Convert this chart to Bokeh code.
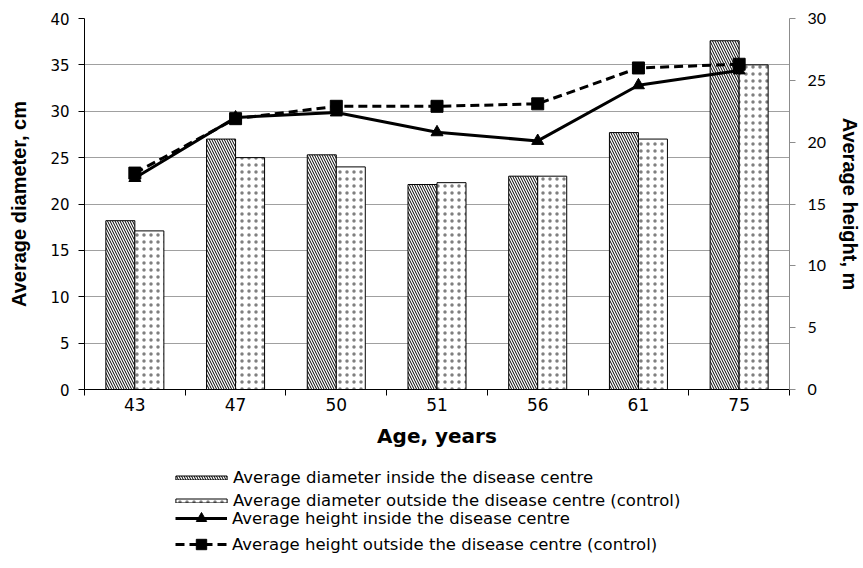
from bokeh.plotting import figure
from bokeh.layouts import column
from bokeh.models import (Range1d, LinearAxis, FixedTicker, Legend, LegendItem,
                          ColumnDataSource)
from bokeh.transform import dodge
from bokeh.embed import file_html
from bokeh.resources import INLINE

ages = ["43", "47", "50", "51", "56", "61", "75"]
diam_inside = [18.2, 27.0, 25.3, 22.1, 23.0, 27.7, 37.6]
diam_outside = [17.1, 25.0, 24.0, 22.3, 23.0, 27.0, 35.0]
height_inside = [17.1, 22.0, 22.4, 20.8, 20.1, 24.6, 25.8]
height_outside = [17.5, 21.9, 22.9, 22.9, 23.1, 26.0, 26.3]
left_ticks = [0, 5, 10, 15, 20, 25, 30, 35, 40]
right_ticks = [0, 5, 10, 15, 20, 25, 30]
labels = [
    "Average diameter inside the disease centre",
    "Average diameter outside the disease centre (control)",
    "Average height inside the disease centre",
    "Average height outside the disease centre (control)",
]

pos = list(range(len(ages)))
src = ColumnDataSource(dict(x=pos, di=diam_inside, do=diam_outside,
                            hi=height_inside, ho=height_outside))

FONT = "Liberation Sans"
HFONT = "DejaVu Sans"

diag_style = dict(fill_color="white", line_color="black", line_width=1,
                  hatch_pattern="\\", hatch_scale=5, hatch_weight=1, hatch_color="black")
dot_style = dict(fill_color="white", line_color="black", line_width=1,
                 hatch_pattern=".", hatch_scale=7, hatch_weight=1,
                 hatch_color="black", hatch_alpha=0.5)

p = figure(frame_width=705, frame_height=371, x_range=Range1d(-0.5, len(ages) - 0.5),
           y_range=Range1d(0, 40), output_backend="svg", toolbar_location=None,
           min_border_left=84, min_border_right=74, min_border_top=18,
           min_border_bottom=69)
p.extra_y_ranges = {"h": Range1d(0, 30)}
p.outline_line_color = None
p.background_fill_color = "white"
p.xgrid.visible = False
p.ygrid.grid_line_color = "#a0a0a0"
p.ygrid.grid_line_width = 1

# x axis
xa = p.xaxis[0]
xa.ticker = FixedTicker(ticks=pos, minor_ticks=[i - 0.5 for i in range(len(ages) + 1)])
xa.major_label_overrides = {i: a for i, a in zip(pos, ages)}
xa.major_tick_line_color = None
xa.major_tick_out = 6
xa.major_tick_in = 0
xa.minor_tick_line_color = "black"
xa.minor_tick_out = 6
xa.minor_tick_in = 0
xa.axis_line_color = "black"
xa.major_label_text_font = HFONT
xa.major_label_text_font_size = "17px"
xa.major_label_text_color = "black"
xa.major_label_standoff = 2
xa.axis_label = "Age, years"
xa.axis_label_text_font = HFONT
xa.axis_label_text_font_style = "bold"
xa.axis_label_text_font_size = "20px"
xa.axis_label_text_color = "black"
xa.axis_label_standoff = 10

# left axis
ya = p.yaxis[0]
ya.ticker = FixedTicker(ticks=left_ticks)
ya.minor_tick_line_color = None
ya.major_tick_out = 6
ya.major_tick_in = 0
ya.axis_line_color = "black"
ya.major_label_text_font = HFONT
ya.major_label_text_font_size = "15px"
ya.major_label_text_color = "black"
ya.major_label_standoff = 9
ya.axis_label = "Average diameter, cm"
ya.axis_label_text_font = FONT
ya.axis_label_text_font_style = "bold"
ya.axis_label_text_font_size = "20px"
ya.axis_label_text_color = "black"
ya.axis_label_standoff = 17

# right axis
ra = LinearAxis(y_range_name="h", ticker=FixedTicker(ticks=right_ticks))
ra.minor_tick_line_color = None
ra.major_tick_out = 6
ra.major_tick_in = 0
ra.axis_line_color = "#8c8c8c"
ra.major_tick_line_color = "#8c8c8c"
ra.major_label_text_font = "Lato"
ra.major_label_text_font_size = "16px"
ra.major_label_text_color = "black"
ra.major_label_standoff = 12
ra.axis_label = "Average height, m"
ra.axis_label_text_font = FONT
ra.axis_label_text_font_style = "bold"
ra.axis_label_text_font_size = "20px"
ra.axis_label_text_color = "black"
ra.axis_label_standoff = 10
p.add_layout(ra, "right")

bw = 0.288
p.vbar(x=dodge("x", -bw / 2, range=p.x_range), top="di", width=bw, source=src, **diag_style)
p.vbar(x=dodge("x", bw / 2, range=p.x_range), top="do", width=bw, source=src, **dot_style)

line_in = dict(line_width=3, line_color="black")
line_out = dict(line_width=3, line_color="black", line_dash="9 5")
mk_in = dict(marker="triangle", fill_color="black", line_color="black")
mk_out = dict(marker="square", fill_color="black", line_color="black")

p.line("x", "hi", source=src, y_range_name="h", **line_in)
p.scatter("x", "hi", source=src, y_range_name="h", size=12, **mk_in)
p.line("x", "ho", source=src, y_range_name="h", **line_out)
p.scatter("x", "ho", source=src, y_range_name="h", size=12, **mk_out)

# legend strip below the chart: same series, drawn out of view, so only the legend shows
q = figure(width=863, height=110, x_range=Range1d(-0.5, len(ages) - 0.5),
           y_range=Range1d(1000, 1001),
           output_backend="svg", toolbar_location=None, x_axis_type=None,
           y_axis_type=None, min_border=0, outline_line_color=None)
q.grid.visible = False
g1 = q.vbar(x="x", top="di", width=bw, source=src, **diag_style)
g2 = q.vbar(x="x", top="do", width=bw, source=src, **dot_style)
g3 = q.line("x", "hi", source=src, **line_in)
g4 = q.scatter("x", "hi", source=src, size=12, **mk_in)
g5 = q.line("x", "ho", source=src, **line_out)
g6 = q.scatter("x", "ho", source=src, size=12, **mk_out)

common = dict(orientation="vertical", padding=0, margin=0, border_line_color=None,
              background_fill_alpha=0, label_text_font=HFONT,
              label_text_font_size="16.5px", label_text_color="black")
leg1 = Legend(items=[LegendItem(label=labels[0], renderers=[g1]),
                     LegendItem(label=labels[1], renderers=[g2])],
              location=(85, 57), glyph_width=64, glyph_height=5, label_standoff=0,
              spacing=1, label_height=22, **common)
leg2 = Legend(items=[LegendItem(label=labels[2], renderers=[g3, g4]),
                     LegendItem(label=labels[3], renderers=[g5, g6])],
              location=(91, 11), glyph_width=52, glyph_height=26, label_standoff=5,
              spacing=-3, label_height=23, **common)
q.add_layout(leg1)
q.add_layout(leg2)

layout = column(p, q, spacing=0)
open("out.html", "w").write(file_html(layout, INLINE))
